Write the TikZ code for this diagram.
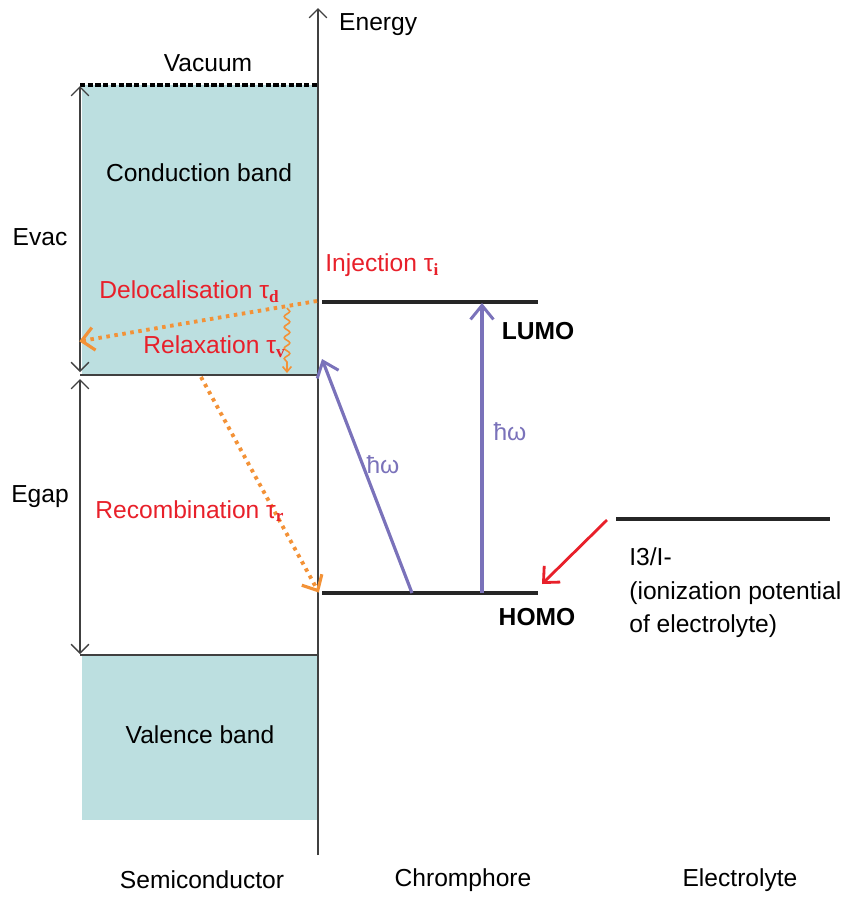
\documentclass[tikz,border=0pt]{standalone}
\usepackage{fontspec}
\setmainfont{Liberation Sans}
\newfontfamily\subfont{Liberation Serif}
\usetikzlibrary{arrows.meta,decorations.pathmorphing}
\definecolor{bandfill}{HTML}{BCDFE0}
\definecolor{photon}{HTML}{7A72BA}
\definecolor{transfer}{HTML}{F39237}
\definecolor{labelred}{HTML}{E8202A}
\newcommand{\tausub}[1]{τ\textsubscript{\subfont\bfseries #1}}
\begin{document}
\begin{tikzpicture}[x=0.02cm,y=-0.02cm,font=\fontsize{14}{17}\selectfont,
    level/.style={line width=2.3pt,black!85},
    edge/.style={line width=0.8pt,black!75},
    thinhead/.style={-{Straight Barb[length=5pt,width=10pt,line width=0.8pt]}},
    bothheads/.style={{Straight Barb[length=5pt,width=10pt,line width=0.8pt]}-{Straight Barb[length=5pt,width=10pt,line width=0.8pt]}},
    photonarrow/.style={line width=1.8pt,color=photon,-{Straight Barb[length=8pt,width=13pt,line width=1.7pt]}},
    transferarrow/.style={line width=2.2pt,color=transfer,dash pattern=on 2pt off 2.6pt,
      -{Straight Barb[length=7pt,width=13pt,line width=1.8pt,sep=-1pt]}},
    redlabel/.style={color=labelred,anchor=west,inner sep=0pt}]
        % Frame
        \useasboundingbox (0,0) rectangle (848,897);

        % Coordinates
        \coordinate (axisbot) at (318,855);
        \coordinate (axistop) at (318,8);
        \coordinate (vacL) at (80,85);
        \coordinate (vacR) at (318,85);
        \coordinate (cbL) at (80,375);
        \coordinate (cbR) at (318,375);
        \coordinate (vbL) at (80,655);
        \coordinate (vbR) at (318,655);
        \coordinate (lumoL) at (322,302);
        \coordinate (lumoR) at (538,302);
        \coordinate (homoL) at (322,593);
        \coordinate (homoR) at (538,593);
        \coordinate (elyL) at (616,519);
        \coordinate (elyR) at (830,519);

        % Bands
        \fill[bandfill] (82,85) rectangle (cbR);
        \fill[bandfill] (82,655) rectangle (318,820);
        \draw[edge] (cbL) -- (cbR);
        \draw[edge] (vbL) -- (vbR);
        \draw[line width=1.8pt,dash pattern=on 3pt off 1.4pt] (vacL) -- (vacR);

        % Energy axis
        \draw[edge,thinhead] (axisbot) -- (axistop);
        \node[anchor=west] (energy) at (333,25) {Energy};

        % Evac and Egap
        \draw[edge,bothheads] (80,86) -- (80,372);
        \draw[edge,bothheads] (80,379) -- (80,654);
        \node (evac) at (40,237) {Evac};
        \node (egap) at (40,497) {Egap};

        % Band labels
        \node (vacuum) at (208,63) {Vacuum};
        \node (cband) at (199,173) {Conduction band};
        \node (vband) at (200,735) {Valence band};

        % Levels
        \draw[level] (lumoL) -- (lumoR);
        \draw[level] (homoL) -- (homoR);
        \draw[level] (elyL) -- (elyR);
        \node[font=\fontsize{14}{17}\selectfont\bfseries] (lumo) at (538,331) {LUMO};
        \node[font=\fontsize{14}{17}\selectfont\bfseries] (homo) at (537,617) {HOMO};
        \node[anchor=west,align=left,inner sep=0pt,font=\fontsize{14}{19}\selectfont] (ely) at (629,593)
          {I3/I-\\(ionization potential\\of electrolyte)};

        % Photon excitation
        \coordinate (hvS) at (482,593);
        \coordinate (hvE) at (482,303);
        \coordinate (hdS) at (412,593);
        \coordinate (hdE) at (322,359);
        \draw[photonarrow] (hvS) -- (hvE);
        \draw[photonarrow] (hdS) -- (hdE);
        \node[color=photon] (hw1) at (510,432) {ħω};
        \node[color=photon] (hw2) at (383,465) {ħω};

        % Electrolyte regeneration
        \coordinate (regS) at (607,520);
        \coordinate (regE) at (542,584);
        \draw[line width=1.6pt,color=labelred,-{Straight Barb[length=7pt,width=13pt,line width=1.6pt]}] (regS) -- (regE);

        % Transfer processes
        \coordinate (delS) at (317,301);
        \coordinate (delE) at (81,341);
        \coordinate (recS) at (201,377);
        \coordinate (recE) at (318,591);
        \draw[transferarrow] (delS) -- (delE);
        \draw[transferarrow] (recS) -- (recE);
        \draw[color=transfer,line width=0.9pt,decorate,decoration={snake,amplitude=1.6pt,segment length=6pt,post length=4pt},
          -{Straight Barb[length=3pt,width=5pt]}] (287,308) -- (287,373);

        % Process labels
        \node[redlabel] (inj) at (325,265) {Injection \tausub{i}};
        \node[redlabel] (deloc) at (99,292) {Delocalisation \tausub{d}};
        \node[redlabel] (relax) at (143,347) {Relaxation \tausub{v}};
        \node[redlabel] (recomb) at (95,511) {Recombination \tausub{r}};

        % Columns
        \node (semi) at (202,880) {Semiconductor};
        \node (chrom) at (463,880) {Chromphore};
        \node (elec) at (740,880) {Electrolyte};
      \end{tikzpicture}
\end{document}
